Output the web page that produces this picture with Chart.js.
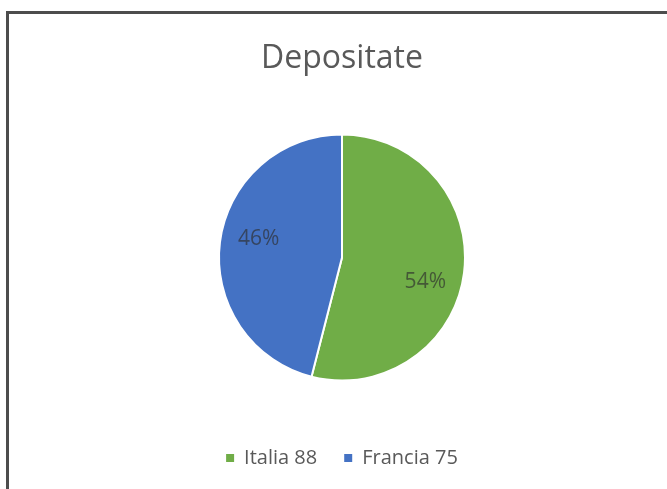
<!DOCTYPE html>
<html>
<head>
<meta charset="utf-8">
<title>Depositate</title>
<script src="https://cdn.jsdelivr.net/npm/chart.js@4/dist/chart.umd.min.js"></script>
<style>
  html, body { margin: 0; padding: 0; background: #fff; overflow: hidden; }
  body { width: 667px; height: 489px; position: relative; }
  .frame {
    position: absolute; left: 6px; top: 11px;
    width: 700px; height: 600px;
    border: 3px solid #4d4d4d;
  }
  .chart-box { position: absolute; left: 9px; top: 14px; width: 666px; height: 475px; }
</style>
</head>
<body>
<div class="frame"></div>
<div class="chart-box"><canvas id="pieChart"></canvas></div>
<script>
const categories = ['Italia 88', 'Francia 75'];
const values = [88, 75];
const colors = ['#70AD47', '#4472C4'];

// percentage labels inside the slices
const sliceLabels = {
  id: 'sliceLabels',
  afterDatasetsDraw(chart) {
    const { ctx } = chart;
    const meta = chart.getDatasetMeta(0);
    const total = values.reduce((a, b) => a + b, 0);
    ctx.save();
    ctx.font = '21px "Open Sans", sans-serif';
    ctx.fillStyle = 'rgba(45,45,45,0.66)';
    ctx.textAlign = 'center';
    ctx.textBaseline = 'middle';
    meta.data.forEach((arc, i) => {
      const { x, y, startAngle, endAngle, outerRadius } = arc.getProps(['x', 'y', 'startAngle', 'endAngle', 'outerRadius'], true);
      const mid = (startAngle + endAngle) / 2 + 0.13;
      const r = outerRadius * 0.7;
      const pct = Math.round(values[i] / total * 100) + '%';
      ctx.fillText(pct, x + Math.cos(mid) * r, y + Math.sin(mid) * r + 3);
    });
    ctx.restore();
  }
};

document.addEventListener('DOMContentLoaded', () => {
  const ctx = document.getElementById('pieChart').getContext('2d');
  new Chart(ctx, {
    type: 'pie',
    data: {
      labels: categories,
      datasets: [{
        data: values,
        backgroundColor: colors,
        borderColor: '#ffffff',
        borderWidth: 2,
        radius: 123
      }]
    },
    options: {
      responsive: true,
      maintainAspectRatio: false,
      animation: false,
      layout: { padding: { top: 0, bottom: 11, left: 0, right: 0 } },
      plugins: {
        title: {
          display: true,
          text: 'Depositate',
          color: '#595959',
          font: { family: '"Open Sans", sans-serif', size: 32, weight: 'normal', lineHeight: 1.2 },
          padding: { top: 25.3, bottom: 16.3 }
        },
        legend: {
          position: 'bottom',
          labels: {
            color: '#595959',
            font: { family: '"Open Sans", sans-serif', size: 20 },
            boxWidth: 8,
            boxHeight: 8,
            padding: 27,
            generateLabels(chart) {
              const base = Chart.overrides.pie.plugins.legend.labels.generateLabels(chart);
              return base.map((item) => ({ ...item, lineWidth: 0 }));
            }
          }
        },
        tooltip: { enabled: false }
      }
    },
    plugins: [sliceLabels]
  });
});
</script>
</body>
</html>
